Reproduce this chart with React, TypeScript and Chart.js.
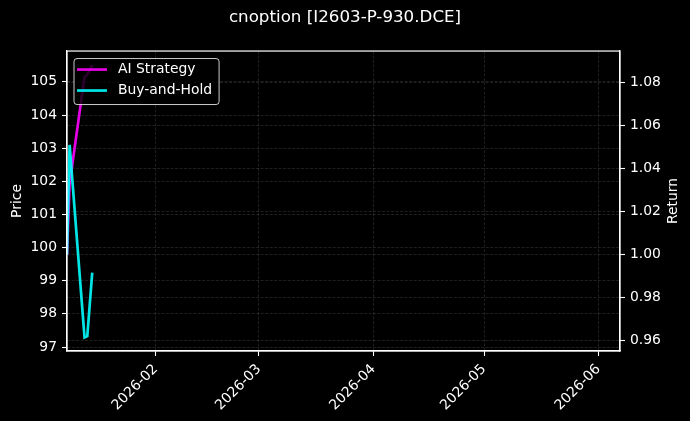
import { useEffect, useRef } from "react";

import { Chart, LineController, LineElement, PointElement, LinearScale, Title } from "chart.js";

Chart.register(LineController, LineElement, PointElement, LinearScale, Title);

const chartTitle = "cnoption [I2603-P-930.DCE]";

// bar times of the back-test
const dates = [
  "2026-01-08T00:00:00Z",
  "2026-01-08T17:00:00Z",
  "2026-01-12T18:00:00Z",
  "2026-01-13T12:00:00Z",
  "2026-01-14T20:00:00Z",
];
const aiStrategy = [1.0, 1.0328, 1.0825, 1.0835, 1.088];
const buyAndHold = [1.0, 1.0509, 0.9615, 0.9621, 0.9916];

const monthTicks = ["2026-02", "2026-03", "2026-04", "2026-05", "2026-06"];
const priceTicks = [97, 98, 99, 100, 101, 102, 103, 104, 105];
const returnTicks = [0.96, 0.98, 1.0, 1.02, 1.04, 1.06, 1.08];

const xStart = "2026-01-08T00:00:00Z";
const xEnd = "2026-06-06T20:00:00Z";

const aiColor = "rgba(255, 0, 255, 0.9)";
const holdColor = "rgba(0, 255, 255, 0.9)";
const gridColor = "rgba(255, 255, 255, 0.2)";
const fontFamily = "'DejaVu Sans', sans-serif";
const smallFont = 13.9;

const toTime = (s: string) => Date.parse(s);

const frameAndLegend = {
  id: "frameAndLegend",
  afterDatasetsDraw(chart: any) {
    const { ctx, chartArea: a } = chart;
    ctx.save();
    ctx.strokeStyle = "#fff";
    ctx.lineWidth = 1.2;
    ctx.strokeRect(a.left, a.top, a.right - a.left, a.bottom - a.top);

    // legend box, upper left, like matplotlib
    ctx.font = `${smallFont}px ${fontFamily}`;
    const sets = chart.data.datasets;
    const labels = sets.map((d: any) => d.label);
    const tw = Math.max(...labels.map((l: string) => ctx.measureText(l).width));
    const x0 = a.left + 7;
    const y0 = a.top + 7.5;
    const w = 44 + tw + 7;
    const h = 46;
    ctx.beginPath();
    ctx.roundRect(x0, y0, w, h, 3);
    ctx.fillStyle = "rgba(0, 0, 0, 0.8)";
    ctx.fill();
    ctx.strokeStyle = "rgba(255, 255, 255, 0.8)";
    ctx.lineWidth = 1;
    ctx.stroke();
    sets.forEach((d: any, i: number) => {
      const y = y0 + 11 + i * 21;
      ctx.strokeStyle = d.borderColor;
      ctx.lineWidth = 2.7;
      ctx.beginPath();
      ctx.moveTo(x0 + 3, y);
      ctx.lineTo(x0 + 33, y);
      ctx.stroke();
      ctx.fillStyle = "#fff";
      ctx.textAlign = "left";
      ctx.textBaseline = "middle";
      ctx.fillText(d.label, x0 + 44, y);
    });
    ctx.restore();
  },
  afterDraw(chart: any) {
    const { ctx, chartArea: a } = chart;
    const midY = (a.top + a.bottom) / 2;
    ctx.save();
    ctx.font = `${smallFont}px ${fontFamily}`;
    ctx.fillStyle = "#fff";
    ctx.textAlign = "center";
    ctx.textBaseline = "middle";
    for (const [text, x] of [
      ["Price", 17],
      ["Return", 673],
    ] as [string, number][]) {
      ctx.save();
      ctx.translate(x, midY);
      ctx.rotate(-Math.PI / 2);
      ctx.fillText(text, 0, 0);
      ctx.restore();
    }
    ctx.restore();
  },
};

const axisLook = {
  grid: {
    color: gridColor,
    lineWidth: 0.6,
    tickColor: "#fff",
    tickWidth: 1.1,
    tickLength: 5,
  },
  border: { color: "#fff", width: 1.2, dash: [3, 1.5] },
  ticks: { color: "#fff", padding: 5, font: { size: smallFont } },
};

export default function App() {
  const chartRef = useRef<HTMLCanvasElement>(null);

  useEffect(() => {
    document.body.style.margin = "0";
    document.body.style.background = "#000";
    if (!chartRef.current) return;

    Chart.defaults.font.family = fontFamily;

    const chart = new Chart(chartRef.current, {
      type: "line",
      data: {
        datasets: [
          {
            label: "AI Strategy",
            data: dates.map((d, i) => ({ x: toTime(d), y: aiStrategy[i] })),
            borderColor: aiColor,
            backgroundColor: aiColor,
            borderWidth: 2.7,
            pointRadius: 0,
            yAxisID: "yReturn",
            order: 1,
          },
          {
            label: "Buy-and-Hold",
            data: dates.map((d, i) => ({ x: toTime(d), y: buyAndHold[i] })),
            borderColor: holdColor,
            backgroundColor: holdColor,
            borderWidth: 2.7,
            pointRadius: 0,
            yAxisID: "yReturn",
            order: 0,
          },
        ],
      },
      options: {
        responsive: false,
        animation: false,
        layout: { padding: 0 },
        plugins: {
          title: {
            display: true,
            text: chartTitle,
            color: "#fff",
            font: { size: 16.7, weight: "normal" },
            padding: { top: 8, bottom: 23 },
          },
          tooltip: { enabled: false },
        },
        scales: {
          x: {
            type: "linear",
            min: toTime(xStart),
            max: toTime(xEnd),
            bounds: "data",
            ...axisLook,
            ticks: {
              ...axisLook.ticks,
              minRotation: 45,
              maxRotation: 45,
              autoSkip: false,
              callback: (v: any) => {
                const d = new Date(Number(v));
                return `${d.getUTCFullYear()}-${String(d.getUTCMonth() + 1).padStart(2, "0")}`;
              },
            },
            afterBuildTicks: (s: any) => {
              s.ticks = monthTicks.map((m) => ({ value: toTime(`${m}-01T00:00:00Z`) }));
            },
            afterFit: (s: any) => {
              s.height = 70;
            },
          },
          yPrice: {
            type: "linear",
            position: "left",
            min: 96.88,
            max: 105.93,
            bounds: "data",
            ...axisLook,
            ticks: { ...axisLook.ticks, callback: (v: any) => String(v) },
            afterBuildTicks: (s: any) => {
              s.ticks = priceTicks.map((v) => ({ value: v }));
            },
            afterFit: (s: any) => {
              s.width = 67;
            },
          },
          yReturn: {
            type: "linear",
            position: "right",
            min: 0.9552,
            max: 1.0945,
            bounds: "data",
            ...axisLook,
            ticks: { ...axisLook.ticks, callback: (v: any) => Number(v).toFixed(2) },
            afterBuildTicks: (s: any) => {
              s.ticks = returnTicks.map((v) => ({ value: v }));
            },
            afterFit: (s: any) => {
              s.width = 70;
            },
          },
        },
      },
      plugins: [frameAndLegend],
    });

    return () => {
      chart.destroy();
    };
  }, []);

  return (
    <div style={{ position: "fixed", left: 0, top: 0, width: 690, height: 421, background: "#000" }}>
      <canvas ref={chartRef} width={690} height={421} />
    </div>
  );
}
